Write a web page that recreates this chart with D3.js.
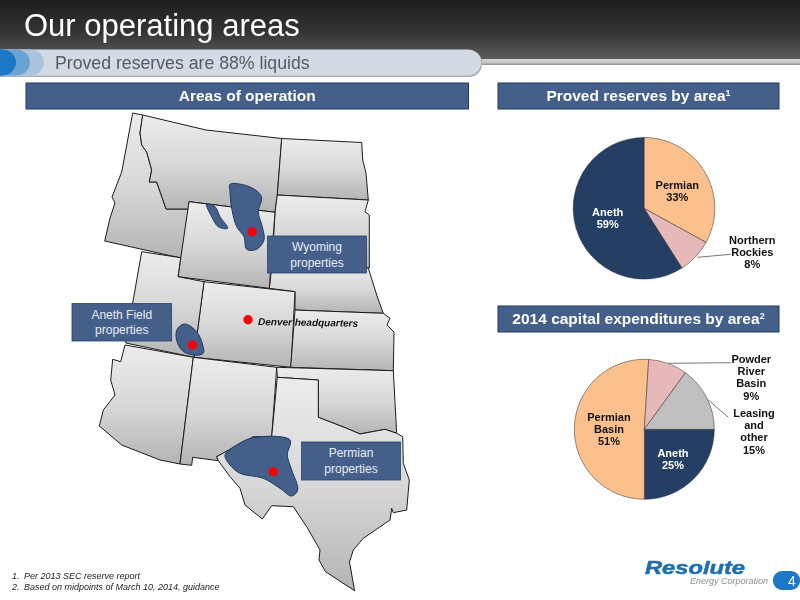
<!DOCTYPE html>
<html>
<head>
<meta charset="utf-8">
<script src="https://cdn.jsdelivr.net/npm/d3@7"></script>
<style>
  html, body { margin: 0; padding: 0; background: #fff; }
  svg { display: block; font-family: "Liberation Sans", Arial, sans-serif; filter: blur(0.3px); }
</style>
</head>
<body>
<svg id="chart" width="800" height="600"></svg>
<script>
// proved reserves by area
const reserveNames = [['Permian'], ['Northern', 'Rockies'], ['Aneth']];
const reserveValues = [33, 8, 59];
const reserveColors = ['#fbc08c', '#e6b8b7', '#243f63'];

// 2014 capex by area (pie starts at 3 o'clock)
const capexNames = [['Aneth'], ['Permian', 'Basin'], ['Powder', 'River', 'Basin'], ['Leasing', 'and', 'other']];
const capexValues = [25, 51, 9, 15];
const capexColors = ['#243f63', '#fbc08c', '#e6b8b7', '#bfbfbf'];

const footnotes = ['Per 2013 SEC reserve report', 'Based on midpoints of March 10, 2014, guidance'];

// map outlines
const states = [
  [[132.7,113],[142.7,115],[140,133],[141.7,145],[146.7,152],[151.7,170],[149.3,182],[156.7,182],[164,203],[166,209],[189,209],[181,258],[104.7,241],[110,218],[115,203],[112,197],[121.7,172]],
  [[142.7,115],[206,130],[281.7,138.5],[277.3,195],[275,212.3],[189,201.7],[189,209],[166,209],[164,203],[156.7,182],[149.3,182],[151.7,170],[146.7,152],[141.7,145],[140,133]],
  [[281.7,138.5],[361.7,142.5],[362.7,160],[366,173],[368.3,200],[277.3,195]],
  [[277.3,195],[368.3,200],[365,211.7],[369.3,215],[369.3,268],[272,265],[275,212.3]],
  [[272,265],[368.3,268],[376.7,295],[383.3,313.3],[295,310],[295,291.7],[269.3,288.3]],
  [[189,201.7],[275,212.3],[269.3,288.3],[178,276.7]],
  [[204,281.7],[295,291.7],[291,367.3],[194,357.3]],
  [[141.7,251.7],[180.7,257.7],[178,276.7],[204,281.7],[194,357.3],[125.7,343]],
  [[295,310],[383.3,313.3],[390,318.3],[387,325],[394,332],[393.3,370.7],[290.7,367.3]],
  [[125,345],[193.3,357.3],[180,464],[160,460],[121.7,445],[99.3,426],[103.3,410],[115,395],[110.7,380],[112.7,359.3],[120.7,361.7]],
  [[193.3,357.3],[276.7,367.3],[271.7,436.7],[253,437],[216.7,456.7],[218.3,460.7],[192.7,457.3],[191.7,465.3],[180,464]],
  [[276.7,367.3],[393.3,370.7],[396.7,433.3],[385,429.3],[360,434],[346.7,428.3],[318.3,417.3],[318.3,380],[277.3,377.3]],
  [[277.3,377.3],[318.3,380],[318.3,417.3],[346.7,428.3],[360,434],[385,429.3],[396.7,433.3],[402.7,436.7],[403.3,463.3],[409.3,480],[406.7,510],[393.3,512.7],[391.7,508.3],[390,520],[363.3,538.3],[353.3,550],[349.5,562],[354.6,590.7],[325.5,571.7],[319,560],[320,550],[306.7,526.7],[293.3,506.7],[271.7,505.7],[262.3,519],[245,505],[240,488.3],[230,476.7],[218.3,460.7],[216.7,456.7],[253,437],[271.7,436.7]]
];
const blobs = [
  [[230,184.3],[246.7,185.7],[258.3,192.3],[261.7,198.3],[258.3,211.7],[262.7,228.3],[264,240],[256.7,249.3],[246.7,249.3],[244,236.7],[236.7,226.7],[231.7,208.3],[230,191.7]],
  [[206.7,204.3],[215,206.7],[220,216.7],[227.7,228.3],[218.3,226.7],[211.7,216.7]],
  [[185,324],[196.7,331.7],[202.7,345],[203.3,353.3],[193.3,355],[181.7,350],[176,336.7],[178,328]],
  [[225,455],[236.7,445],[253.3,437.7],[290,440],[287.3,455],[291.7,470],[297.7,490],[291.7,496],[280,488.3],[263.3,478.3],[240,473.3],[230,465]]
];
const redDots = [[252,231.7],[248,319.7],[192.3,345],[273.3,471.7]];

const svg = d3.select('#chart');
const defs = svg.append('defs');

const addGradient = (id, stops) => {
  const g = defs.append('linearGradient').attr('id', id)
    .attr('x1', 0).attr('y1', 0).attr('x2', 0).attr('y2', 1);
  stops.forEach(s => g.append('stop').attr('offset', s[0]).attr('stop-color', s[1]));
};
addGradient('topBar', [[0, '#1e1e1e'], [0.55, '#343434'], [1, '#5c5c5c']]);
addGradient('state', [[0, '#ececec'], [0.5, '#d8d8d8'], [1, '#b4b4b4']]);
addGradient('line', [[0, '#d6d6d6'], [0.6, '#c4c4c4'], [1, '#8c8c8c']]);

// title band
svg.append('rect').attr('width', 800).attr('height', 59).attr('fill', 'url(#topBar)');
svg.append('rect').attr('y', 59).attr('width', 800).attr('height', 6).attr('fill', 'url(#line)');
svg.append('text').attr('x', 24).attr('y', 36).attr('font-size', 31).attr('fill', '#fff').text('Our operating areas');

svg.append('rect').attr('x', -20).attr('y', 50).attr('width', 502).attr('height', 27).attr('rx', 13).attr('fill', '#aab0b8');
svg.append('rect').attr('x', -20).attr('y', 49.5).attr('width', 501).attr('height', 26).attr('rx', 13).attr('fill', '#d3dae3');
[[44, '#a9c3dc'], [30, '#6aa3d3'], [16, '#1a78c6']].forEach(c => {
  svg.append('ellipse').attr('cx', c[0] - 14).attr('cy', 62.5).attr('rx', 14).attr('ry', 13).attr('fill', c[1]);
  svg.append('rect').attr('x', 0).attr('y', 49.5).attr('width', Math.max(c[0] - 14, 0)).attr('height', 26).attr('fill', c[1]);
});
svg.append('text').attr('x', 55).attr('y', 69).attr('font-size', 17.7).attr('fill', '#555b62').text('Proved reserves are 88% liquids');

// section headers
const header = (x, y, w, label, sup) => {
  svg.append('rect').attr('x', x).attr('y', y).attr('width', w).attr('height', 26)
    .attr('fill', '#44608a').attr('stroke', '#1f3a5f').attr('stroke-width', 1);
  const t = svg.append('text').attr('x', x + w / 2).attr('y', y + 18).attr('text-anchor', 'middle')
    .attr('font-size', 15.5).attr('font-weight', 'bold').attr('fill', '#fff').text(label);
  if (sup) t.append('tspan').attr('font-size', 9).attr('dy', -5).text(sup);
};
header(26, 83, 442.5, 'Areas of operation');
header(498, 83, 281, 'Proved reserves by area', '1');
header(498, 306, 281, '2014 capital expenditures by area', '2');

// map
const outline = d3.line().curve(d3.curveLinearClosed);
const round = d3.line().curve(d3.curveCatmullRomClosed.alpha(0.5));
const map = svg.append('g');

map.selectAll('path.state').data(states).enter().append('path')
  .attr('class', 'state')
  .attr('d', outline)
  .attr('fill', 'url(#state)')
  .attr('stroke', '#1c1c1c')
  .attr('stroke-width', 1)
  .attr('stroke-linejoin', 'round');

map.selectAll('path.blob').data(blobs).enter().append('path')
  .attr('class', 'blob')
  .attr('d', round)
  .attr('fill', '#44608a')
  .attr('stroke', '#1f3a5f')
  .attr('stroke-width', 1);

map.selectAll('circle').data(redDots).enter().append('circle')
  .attr('cx', d => d[0])
  .attr('cy', d => d[1])
  .attr('r', 4.7)
  .attr('fill', '#fb0007');

svg.append('text').attr('x', 258).attr('y', 325).attr('font-size', 10)
  .attr('font-weight', 'bold').attr('font-style', 'italic').attr('fill', '#111')
  .attr('transform', 'rotate(1 258 325)')
  .text('Denver headquarters');

// callouts
const callout = (x, y, w, h, lines) => {
  svg.append('rect').attr('x', x).attr('y', y).attr('width', w).attr('height', h)
    .attr('fill', '#44608a').attr('stroke', '#2a4468').attr('stroke-width', 0.8);
  lines.forEach((l, i) => {
    svg.append('text').attr('x', x + w / 2).attr('y', y + 15 + i * 15.5)
      .attr('text-anchor', 'middle').attr('font-size', 12).attr('fill', '#e8ecf2').text(l);
  });
};
callout(267.5, 236, 99, 37, ['Wyoming', 'properties']);
callout(72, 303.5, 99.5, 37.5, ['Aneth Field', 'properties']);
callout(301.5, 442, 99, 38, ['Permian', 'properties']);

// pies
const drawPie = (cx, cy, r, values, colors, startAngle) => {
  const pie = d3.pie().sort(null).startAngle(startAngle).endAngle(startAngle + 2 * Math.PI);
  const arc = d3.arc().innerRadius(0).outerRadius(r);
  svg.append('g').attr('transform', `translate(${cx},${cy})`)
    .selectAll('path').data(pie(values)).enter().append('path')
    .attr('d', arc)
    .attr('fill', (d, i) => colors[i])
    .attr('stroke', '#2b2b2b')
    .attr('stroke-width', 0.5);
};
drawPie(644, 208.3, 70.8, reserveValues, reserveColors, 0);
drawPie(644.3, 429.3, 70, capexValues, capexColors, Math.PI / 2);

const leader = (pts) => svg.append('path').attr('d', d3.line()(pts))
  .attr('fill', 'none').attr('stroke', '#555').attr('stroke-width', 0.8);
leader([[697.3, 257.3], [730.7, 254.3]]);
leader([[668.3, 363.3], [730.7, 362.7]]);
leader([[708.3, 400], [728.3, 417.3]]);

// pie labels: name lines, then the share
const pieLabel = (cx, y, lines, value, color) => {
  lines.concat(value + '%').forEach((l, i) => {
    svg.append('text').attr('x', cx).attr('y', y + i * 12.2)
      .attr('text-anchor', 'middle').attr('font-size', 11).attr('font-weight', 'bold')
      .attr('fill', color).text(l);
  });
};
pieLabel(677.3, 189, reserveNames[0], reserveValues[0], '#111');
pieLabel(752.3, 244, reserveNames[1], reserveValues[1], '#111');
pieLabel(607.7, 216, reserveNames[2], reserveValues[2], '#fff');
pieLabel(673, 457, capexNames[0], capexValues[0], '#fff');
pieLabel(609, 421, capexNames[1], capexValues[1], '#111');
pieLabel(751.3, 363, capexNames[2], capexValues[2], '#111');
pieLabel(754, 417, capexNames[3], capexValues[3], '#111');

// footnotes
footnotes.forEach((f, i) => {
  svg.append('text').attr('x', 12).attr('y', 579 + i * 10.5).attr('font-size', 9)
    .attr('font-style', 'italic').attr('fill', '#222').text(`${i + 1}.`);
  svg.append('text').attr('x', 24).attr('y', 579 + i * 10.5).attr('font-size', 9)
    .attr('font-style', 'italic').attr('fill', '#222').text(f);
});

// logo and page number
svg.append('text').attr('x', 645).attr('y', 574).attr('font-size', 18)
  .attr('font-weight', 'bold').attr('font-style', 'italic').attr('fill', '#1f6fae')
  .attr('stroke', '#1f6fae').attr('stroke-width', 0.5)
  .attr('textLength', 100).attr('lengthAdjust', 'spacingAndGlyphs').text('Resolute');
svg.append('text').attr('x', 768).attr('y', 584).attr('text-anchor', 'end').attr('font-size', 9)
  .attr('font-style', 'italic').attr('fill', '#8a8f95').text('Energy Corporation');
svg.append('rect').attr('x', 773).attr('y', 571).attr('width', 27).attr('height', 19).attr('rx', 9).attr('fill', '#1a78c6');
svg.append('text').attr('x', 792).attr('y', 585.5).attr('text-anchor', 'middle').attr('font-size', 14).attr('fill', '#fff').text('4');
</script>
</body>
</html>
